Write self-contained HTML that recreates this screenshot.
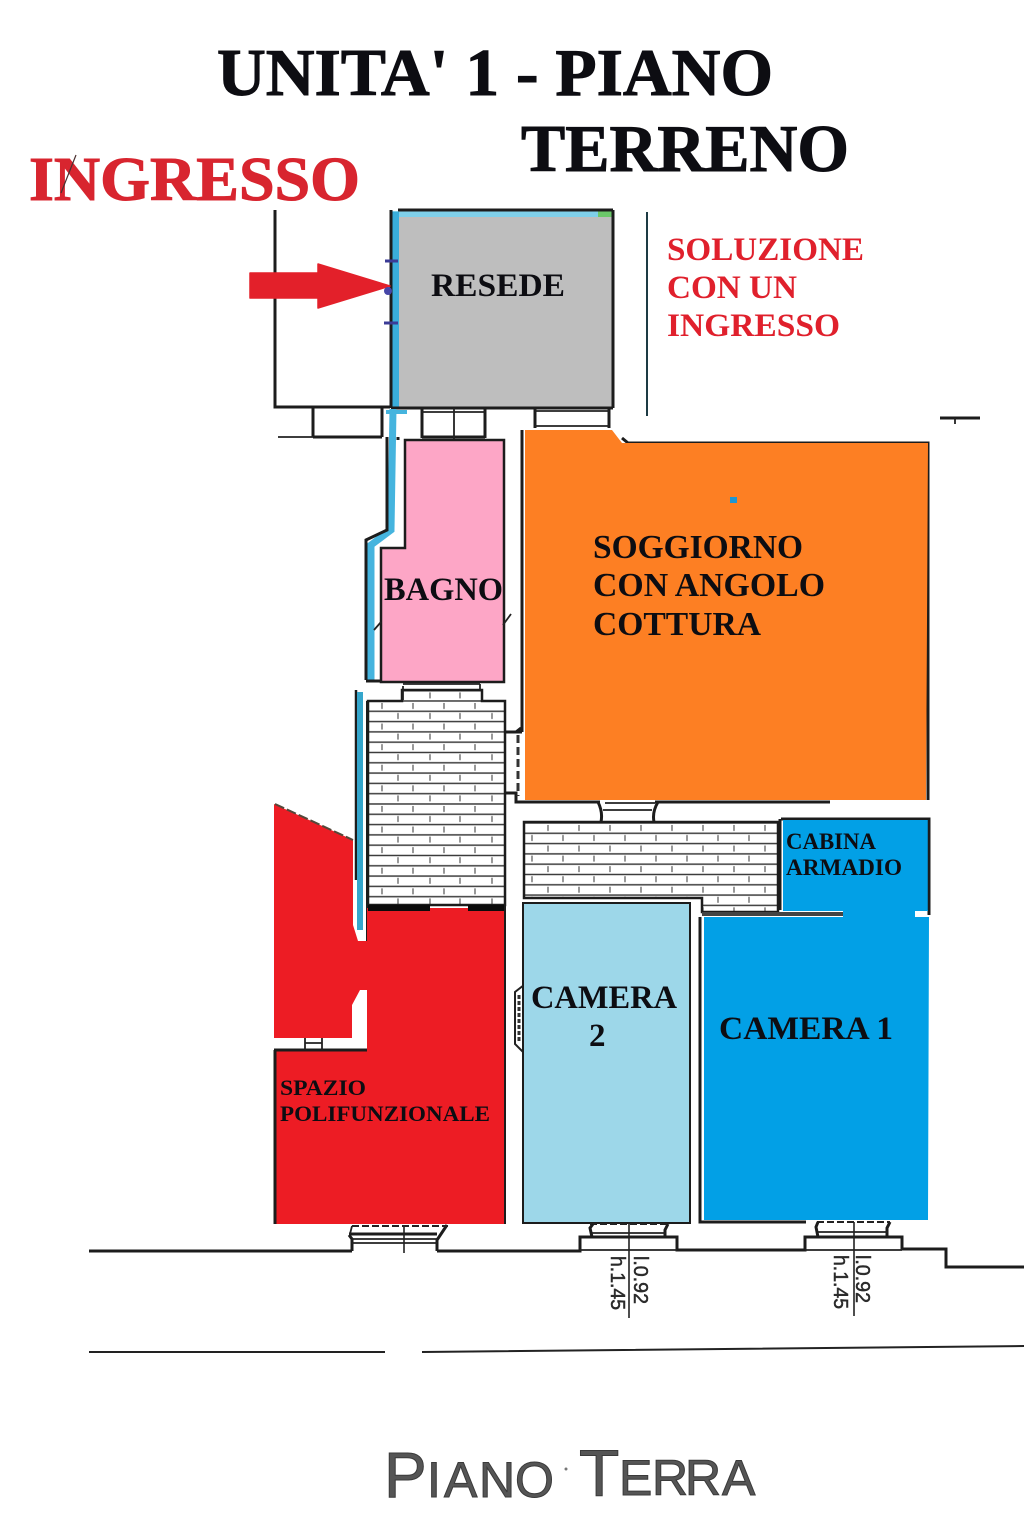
<!DOCTYPE html>
<html lang="it"><head><meta charset="utf-8"><title>Unita' 1 - Piano Terreno</title>
<style>html,body{margin:0;padding:0;background:#fff}svg{display:block}
text{font-family:"Liberation Serif",serif;font-weight:bold;fill:#0d0d12}
.h{stroke:#0d0d12;stroke-width:1}
.s{font-family:"Liberation Sans",sans-serif;font-weight:normal;fill:#2a2a2a}
.r{fill:#e0202c}
.w{fill:none;stroke:#1c1c1c;stroke-width:3}
.t{fill:none;stroke:#222;stroke-width:1.8}
</style></head><body>
<svg xmlns="http://www.w3.org/2000/svg" width="1024" height="1536" viewBox="0 0 1024 1536">
<defs>
<pattern id="b" x="368" y="700" width="62" height="20.6" patternUnits="userSpaceOnUse">
<rect width="62" height="20.6" fill="#fff"/>
<path d="M0 1H62M0 11.3H62" stroke="#3a3a3a" stroke-width="1.500" fill="none"/>
<path d="M14 3V9M45 3V9M0 13V19M30 13V19M62 13V19" stroke="#555" stroke-width="1.200" fill="none"/>
</pattern>
<pattern id="b2" x="524" y="822" width="62" height="20.6" patternUnits="userSpaceOnUse">
<rect width="62" height="20.6" fill="#fff"/>
<path d="M0 1H62M0 11.3H62" stroke="#3a3a3a" stroke-width="1.500" fill="none"/>
<path d="M24 3V9M55 3V9M8 13V19M39 13V19" stroke="#555" stroke-width="1.200" fill="none"/>
</pattern>
</defs>
<rect width="1024" height="1536" fill="#fff"/>

<!-- Titles -->
<text class="h" x="217" y="95" font-size="67" textLength="556" lengthAdjust="spacingAndGlyphs">UNITA' 1 - PIANO</text>
<text class="h" x="521" y="171" font-size="67" textLength="328" lengthAdjust="spacingAndGlyphs">TERRENO</text>
<text x="29" y="200" font-size="62" textLength="331" lengthAdjust="spacingAndGlyphs" style="fill:#d8252f;stroke:#d8252f;stroke-width:1">INGRESSO</text>
<line x1="61" y1="193" x2="76" y2="155" stroke="#4a3030" stroke-width="1.200"/>
<text class="r" x="667" y="260" font-size="33" textLength="197" lengthAdjust="spacingAndGlyphs">SOLUZIONE</text>
<text class="r" x="667" y="298" font-size="33" textLength="130" lengthAdjust="spacingAndGlyphs">CON UN</text>
<text class="r" x="667" y="336" font-size="33" textLength="173" lengthAdjust="spacingAndGlyphs">INGRESSO</text>

<!-- Resede and upper outlines -->
<rect x="398" y="217" width="214" height="190" fill="#bebebe"/>
<rect x="392" y="211" width="221" height="6" fill="#7fd0ea"/>
<rect x="598" y="211" width="14" height="6" fill="#6cc86a"/>
<rect x="392" y="212" width="7" height="196" fill="#3aaedb"/>
<path class="w" d="M275 210V407H390M391 210V408M398 210H613M613 210V408M391 408H613"/>
<path d="M647 212V416" stroke="#1d3b44" stroke-width="2" fill="none"/>
<path class="w" d="M313 408V437M382 408V437M313 437H382M422 408V438M485 408V438M422 437H485M535 408V428M609 408V428"/>
<path class="t" d="M422 412H485M454 408V440M535 411H609M535 426H609M278 437H313"/>
<path class="w" d="M622 438L628 443H928V800M940 418H980"/>
<path class="t" d="M955 418V424"/>

<!-- Arrow -->
<path d="M250 273H318V264L390 286L318 308V298H250Z" fill="#e3202a" stroke="#e3202a" stroke-width="1.500" stroke-linejoin="round"/>
<path d="M385 261H398M384 323H398" stroke="#3b3b96" stroke-width="3"/>
<circle cx="388" cy="291" r="4" fill="#4646a8"/>
<text x="431" y="296" font-size="33" textLength="134" lengthAdjust="spacingAndGlyphs">RESEDE</text>

<!-- Left corridor strip -->
<path d="M393 409L391 530L371 545V682" fill="none" stroke="#45b4de" stroke-width="7"/>
<path d="M386 412H407" stroke="#45b4de" stroke-width="4"/>
<path class="w" d="M387 437V530L366 540V680M366 681H402M398 437V440"/>

<!-- Bagno -->
<path d="M405 440H504V682H381V548H405Z" fill="#fda6c6" stroke="#1c1c1c" stroke-width="2.500"/>
<text x="384" y="600" font-size="33" textLength="119" lengthAdjust="spacingAndGlyphs">BAGNO</text>
<path class="t" d="M374 630L381 622M503 625L511 614"/>

<!-- Orange -->
<path class="w" d="M522 430V732M516 732H522"/>
<path d="M525 430H612L622 443H928L926 800H525Z" fill="#fd7f23"/>
<rect x="730" y="497" width="7" height="6" fill="#1e96d2"/>
<text x="593" y="558" font-size="34" textLength="210" lengthAdjust="spacingAndGlyphs">SOGGIORNO</text>
<text x="593" y="596" font-size="34" textLength="232" lengthAdjust="spacingAndGlyphs">CON ANGOLO</text>
<text x="593" y="635" font-size="34" textLength="168" lengthAdjust="spacingAndGlyphs">COTTURA</text>

<!-- Upper brick block -->
<path d="M368 701H402V690H482V701H505V905H368Z" fill="url(#b)" stroke="#1c1c1c" stroke-width="2.500"/>
<path class="t" d="M403 684H480M403 686V700M480 684V690"/>
<path class="w" d="M505 732H516L521 728M505 793H516V802H600M655 802H830"/>
<path d="M518 735V796" stroke="#333" stroke-width="3" stroke-dasharray="8 4"/>
<path d="M356 690V880" stroke="#1c1c1c" stroke-width="2.500"/>
<path d="M360 692V930" stroke="#35a6cc" stroke-width="6"/>
<path d="M367 701V941" stroke="#1c1c1c" stroke-width="2"/>

<!-- Red area -->
<path d="M274 804L353 840V925L358 941H367V908H505V1224H275V1050H367V990H360L352 1005V1038H274Z" fill="#ed1c24"/>
<path d="M505 905V1224" stroke="#1c1c1c" stroke-width="2"/>
<path d="M275 804L353 840" stroke="#55483a" stroke-width="2" stroke-dasharray="10 3"/>
<rect x="368" y="905" width="62" height="6" fill="#0b0b0b"/>
<rect x="468" y="905" width="36" height="6" fill="#0b0b0b"/>
<path class="w" d="M274 1050H367M275 1050V1224"/>
<path class="t" d="M305 1038V1050M322 1038V1050M305 1043H322"/>
<text x="280" y="1095" font-size="22" textLength="86" lengthAdjust="spacingAndGlyphs">SPAZIO</text>
<text x="280" y="1121" font-size="22" textLength="210" lengthAdjust="spacingAndGlyphs">POLIFUNZIONALE</text>

<!-- Door and lower bricks -->
<path class="w" d="M598 802Q603 812 601 822M658 802Q652 812 654 822"/>
<path class="t" d="M603 810H652M605 803H655"/>
<path d="M524 822H778V912H702V898H524Z" fill="url(#b2)" stroke="#1c1c1c" stroke-width="2.500"/>

<!-- Camera 2 -->
<path d="M524 985L515 992V1044L524 1053Z" fill="#fff" stroke="#222" stroke-width="2"/>
<path d="M519 995V1042" stroke="#333" stroke-width="3" stroke-dasharray="4 2"/>
<path d="M523 903H690V1223H523Z" fill="#9dd7e9" stroke="#1c1c1c" stroke-width="2"/>
<text x="531" y="1008" font-size="33" textLength="146" lengthAdjust="spacingAndGlyphs">CAMERA</text>
<text x="589" y="1046" font-size="33">2</text>

<!-- Camera 1 and cabina -->
<path class="w" d="M780 819V910M781 819H929V915M700 917V1222H806"/>
<path d="M704 917H843V910H915V917H929L928 1220H704Z" fill="#02a0e6"/>
<rect x="783" y="820" width="145" height="91" fill="#02a0e6"/>
<rect x="843" y="905" width="72" height="14" fill="#02a0e6"/>
<path d="M702 914H843" stroke="#444" stroke-width="4"/>
<path d="M929 819V910" stroke="#1c1c1c" stroke-width="2.500"/>
<text x="786" y="849" font-size="23" textLength="90" lengthAdjust="spacingAndGlyphs">CABINA</text>
<text x="786" y="875" font-size="23" textLength="116" lengthAdjust="spacingAndGlyphs">ARMADIO</text>
<text x="719" y="1039" font-size="33" textLength="174" lengthAdjust="spacingAndGlyphs">CAMERA 1</text>

<!-- Bottom windows and street lines -->
<path class="w" d="M89 1251H352M352 1251V1239L349 1235M349 1234H437M437 1251V1240L447 1225M437 1251H580V1237H677V1250H805V1237H902V1249H946V1267H1024"/>
<path class="t" d="M352 1243H437M352 1239H437M352 1226L350 1234"/>
<path d="M352 1226H448" stroke="#222" stroke-width="2" stroke-dasharray="7 3"/>
<path d="M590 1224H668M817 1222H890" stroke="#222" stroke-width="2" stroke-dasharray="7 3"/>
<path class="w" d="M593 1224L590 1228L592 1237M668 1224L665 1230V1237M818 1222L816 1227L818 1237M890 1222L887 1228V1237"/>
<path class="t" d="M592 1233H666M818 1232H888M580 1250H677M805 1250H902"/>
<path d="M404 1225V1253M629 1222V1318M854 1222V1316" stroke="#222" stroke-width="1.600"/>
<g>
<text class="s" font-size="20" stroke="#2a2a2a" stroke-width=".5" transform="translate(634 1256) rotate(90)" textLength="48" lengthAdjust="spacingAndGlyphs">l.0.92</text>
<text class="s" font-size="20" stroke="#2a2a2a" stroke-width=".5" transform="translate(611 1256) rotate(90)" textLength="54" lengthAdjust="spacingAndGlyphs">h.1.45</text>
<text class="s" font-size="20" stroke="#2a2a2a" stroke-width=".5" transform="translate(856 1255) rotate(90)" textLength="48" lengthAdjust="spacingAndGlyphs">l.0.92</text>
<text class="s" font-size="20" stroke="#2a2a2a" stroke-width=".5" transform="translate(834 1255) rotate(90)" textLength="54" lengthAdjust="spacingAndGlyphs">h.1.45</text>
</g>
<path d="M89 1352H385M422 1352L1024 1346" stroke="#222" stroke-width="2" fill="none"/>

<!-- Piano terra -->
<g stroke="#3a3a3a" stroke-width="1">
<text class="s" x="384" y="1497" font-size="64" style="fill:#555">P</text>
<text class="s" y="1497" font-size="50" x="427 444 479 515" style="fill:#555">IANO</text>
<text class="s" x="579" y="1496" font-size="66" style="fill:#555">T</text>
<text class="s" y="1495" font-size="50" x="619 652 685 722" style="fill:#555">ERRA</text>
</g>
<circle cx="566" cy="1469" r="1.500" fill="#777"/>
</svg>
</body></html>
